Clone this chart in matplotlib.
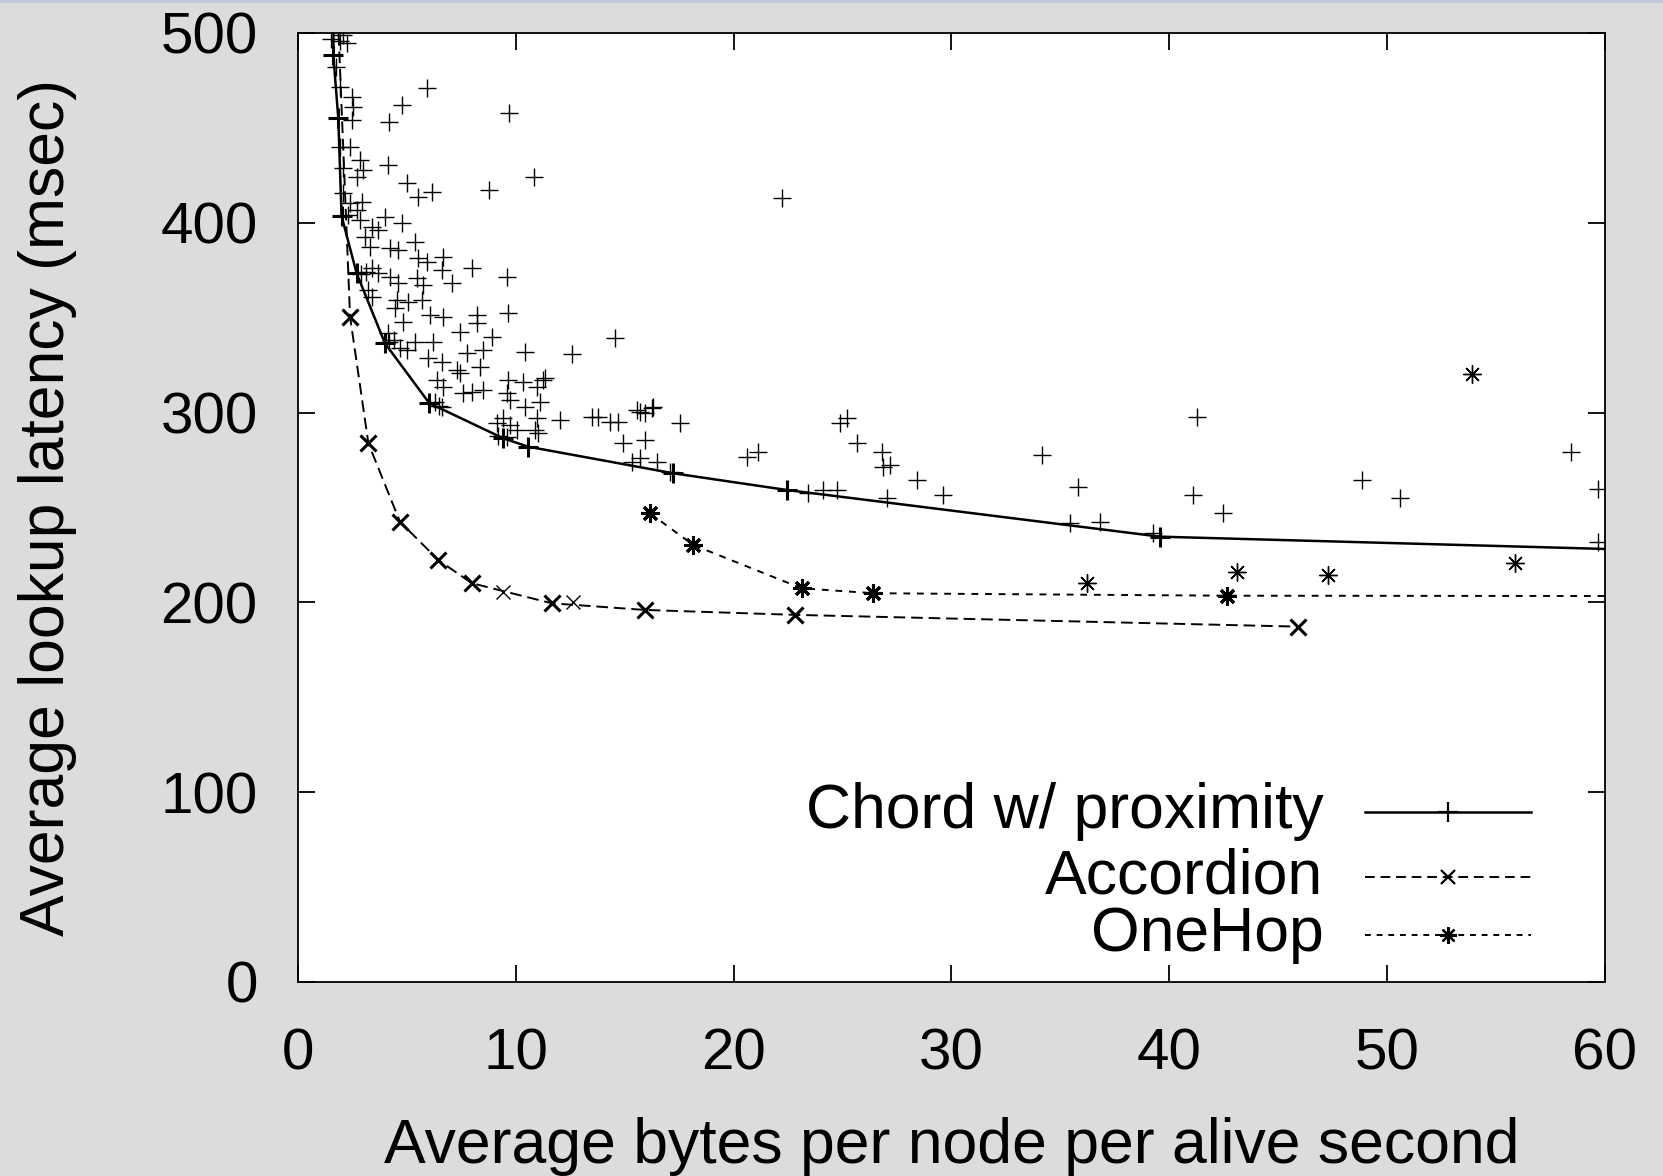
import matplotlib
matplotlib.use('Agg')
import matplotlib.pyplot as plt
from matplotlib.patches import Rectangle

plt.rcParams['font.family'] = ['Liberation Sans', 'DejaVu Sans']

# ---------------- data ----------------
x_ticks = [0, 10, 20, 30, 40, 50, 60]
y_ticks = [0, 100, 200, 300, 400, 500]
x_label = "Average bytes per node per alive second"
y_label = "Average lookup latency (msec)"
series_names = ["Chord w/ proximity", "Accordion", "OneHop"]

# convex-hull lines
chord_line_x = [1.65, 1.62, 1.85, 2.0, 2.69, 3.99, 6.03, 9.43, 10.57, 17.23, 22.44, 39.58, 62.0]
chord_line_y = [520, 488.4, 455.0, 403.5, 373.4, 336.5, 304.9, 286.4, 282.0, 268.0, 259.2, 234.6, 227.5]

accordion_line_x = [1.72, 2.39, 3.23, 4.68, 6.44, 7.98, 11.65, 15.93, 22.82, 45.93]
accordion_line_y = [540, 350.5, 283.8, 242.5, 222.3, 210.1, 199.5, 196.0, 193.4, 187.2]

onehop_line_x = [16.16, 18.15, 23.12, 26.41, 42.64, 65.0]
onehop_line_y = [246.9, 230.2, 207.4, 204.8, 203.5, 203.3]

# individual parameter settings (scatter)
chord_pts_x = [
    2.08, 2.23, 1.93, 2.46, 2.54, 5.94, 4.78, 4.18, 9.67, 2.46, 1.93, 2.39, 2.85, 4.15,
    2.08, 3.0, 2.69, 4.99, 5.53, 6.14, 8.79, 10.84, 2.08, 2.39, 2.92, 2.69, 2.85, 3.99,
    3.38, 4.76, 3.69, 3.08, 5.37, 3.31, 4.22, 4.61, 6.67, 5.53, 5.91, 6.6, 7.98, 9.61,
    3.38, 3.69, 4.22, 4.61, 5.45, 5.75, 7.06, 3.23, 3.38, 4.53, 5.07, 5.68, 4.45, 6.06,
    6.67, 8.2, 8.2, 9.66, 4.84, 7.44, 8.89, 4.15, 5.37, 6.21, 4.68, 4.99, 7.75, 8.51,
    10.42, 5.98, 6.6, 7.29, 7.44, 8.36, 6.37, 6.67, 7.98, 7.59, 8.51, 9.66, 10.34, 11.26,
    10.96, 9.58, 6.6, 9.73, 10.42, 9.43, 9.73, 10.88, 10.96,
    14.55, 12.57, 17.54, 15.7, 16.24, 15.55, 13.79, 13.48, 14.33, 14.7, 12.03, 14.94,
    15.93, 15.7, 16.47, 15.32, 17.08, 20.6, 21.14, 11.11, 11.03, 9.12, 10.04, 11.34,
    15.93, 16.3,
    22.21, 24.89, 25.19, 25.65, 26.8, 26.87, 27.18, 28.41, 29.63, 27.03, 23.43, 24.12,
    24.73, 34.15, 35.83, 35.45, 36.82, 39.27, 41.1, 41.26, 42.48, 48.84, 50.6, 58.43,
    59.67, 59.67,
    1.95, 1.5, 1.75, 2.3, 6.3, 6.45, 9.2, 9.6, 2.9, 3.1, 4.2, 4.4,
]
chord_pts_y = [
    499, 494.6, 471.7, 466.4, 461.2, 470.9, 462.1, 453.3, 458.0, 454.2, 440.1, 440.1, 433.1, 430.5,
    428.7, 427.8, 424.3, 420.8, 413.8, 416.4, 417.3, 424.3, 415.5, 410.3, 411.1, 406.7, 401.5, 403.2,
    397.9, 399.7, 396.2, 392.7, 390.0, 387.4, 386.6, 385.7, 382.1, 381.3, 379.5, 375.1, 376.0, 371.6,
    376.0, 373.4, 371.6, 368.1, 370.7, 367.2, 368.1, 364.6, 361.1, 359.3, 358.4, 359.3, 354.9, 351.4,
    350.5, 351.4, 347.0, 352.3, 347.9, 342.6, 340.0, 341.8, 337.4, 337.4, 333.9, 333.0, 331.2, 333.0,
    332.1, 328.6, 326.8, 322.4, 320.7, 324.2, 317.2, 313.6, 311.0, 310.2, 311.9, 317.2, 316.3, 317.2,
    313.6, 310.2, 303.1, 306.6, 303.1, 297.0, 293.5, 290.8, 297.0,
    339.1, 330.7, 294.4, 300.5, 302.3, 301.4, 297.8, 297.8, 295.2, 295.2, 296.1, 283.8,
    285.6, 275.9, 274.1, 274.1, 268.9, 276.4, 279.4, 305.7, 289.1, 294.4, 290.8, 318.1,
    299.8, 303.0,
    412.9, 294.4, 297.0, 283.8, 279.4, 271.5, 272.4, 264.5, 256.6, 254.9, 257.5, 259.2,
    259.2, 277.7, 261.0, 241.7, 242.5, 236.4, 256.6, 297.8, 246.9, 264.5, 254.8, 279.4,
    259.6, 231.7,
    496, 497, 482, 404, 305.5, 303.5, 287.5, 287.0, 373, 374, 337, 338,
]

accordion_pts_x = [9.43, 12.64]
accordion_pts_y = [205.6, 200.4]

onehop_pts_x = [53.89, 43.1, 47.28, 55.85, 36.21]
onehop_pts_y = [320.3, 216.2, 214.4, 220.6, 210.1]

# ---------------- figure ----------------
BG = '#dcdcdc'
fig = plt.figure(figsize=(16.63, 11.76), dpi=100, facecolor=BG)
fig.patches.append(Rectangle((0, 0.9975), 1, 0.0025, transform=fig.transFigure,
                             facecolor='#c4c8de', edgecolor='none'))
ax = fig.add_axes([0.1792, 0.1650, 0.7859, 0.8070])
ax.set_facecolor('white')

STAR = (8, 2, 0)

# scatter of individual runs
ax.plot(chord_pts_x, chord_pts_y, linestyle='none', marker='+', markersize=13.5,
        markeredgewidth=1.0, color='black')
ax.plot(accordion_pts_x, accordion_pts_y, linestyle='none', marker='x', markersize=10,
        markeredgewidth=1.0, color='black')
ax.plot(onehop_pts_x, onehop_pts_y, linestyle='none', marker=STAR, markersize=13,
        markeredgewidth=1.0, color='black')

# convex hull lines
ax.plot(chord_line_x, chord_line_y, linestyle='-', linewidth=1.8, color='black',
        marker='+', markersize=14, markeredgewidth=2.2)
ax.plot(accordion_line_x, accordion_line_y, linestyle=(0, (6, 3)), linewidth=1.4,
        color='black', marker='x', markersize=11, markeredgewidth=2.2)
ax.plot(onehop_line_x, onehop_line_y, linestyle=(0, (3.5, 3.5)), linewidth=1.4,
        color='black', marker=STAR, markersize=13, markeredgewidth=2.2)

ax.set_xlim(0, 60)
ax.set_ylim(0, 500)
ax.set_xticks(x_ticks)
ax.set_yticks(y_ticks)
ax.tick_params(direction='in', length=12, width=1.3, top=True, right=True,
               labelsize=42, colors='black')
ax.tick_params(axis='y', pad=29)
ax.tick_params(axis='x', pad=33)
for s in ax.spines.values():
    s.set_linewidth(1.3)
    s.set_color('black')

ax.set_xlabel(x_label, fontsize=45)
ax.set_ylabel(y_label, fontsize=45)
ax.xaxis.label.set_va('center')
ax.yaxis.label.set_va('center')
ax.xaxis.set_label_coords(0.5, -0.1735)
ax.yaxis.set_label_coords(-0.1913, 0.5)

# legend (gnuplot style: right-justified label, sample to the right)
leg_rows = [0.1795, 0.1110, 0.0495]
leg_styles = [
    dict(linestyle='-', linewidth=1.8, marker='+', markersize=14, markeredgewidth=1.6),
    dict(linestyle=(0, (5, 3)), linewidth=1.4, marker='x', markersize=10, markeredgewidth=1.6),
    dict(linestyle=(0, (3, 3)), linewidth=1.4, marker=STAR, markersize=12, markeredgewidth=1.6),
]
for name, yy, st in zip(series_names, leg_rows, leg_styles):
    ax.text(0.7845, yy, name, transform=ax.transAxes, ha='right', va='center',
            fontsize=45, color='black')
    ax.plot([0.8164, 0.9434], [yy, yy], transform=ax.transAxes, color='black',
            clip_on=False, **{k: v for k, v in st.items() if k not in ('marker', 'markersize', 'markeredgewidth')})
    ax.plot([0.8799], [yy], transform=ax.transAxes, color='black', linestyle='none',
            marker=st['marker'], markersize=st['markersize'],
            markeredgewidth=st['markeredgewidth'], clip_on=False)

fig.savefig('out.png', dpi=100, facecolor=BG)
